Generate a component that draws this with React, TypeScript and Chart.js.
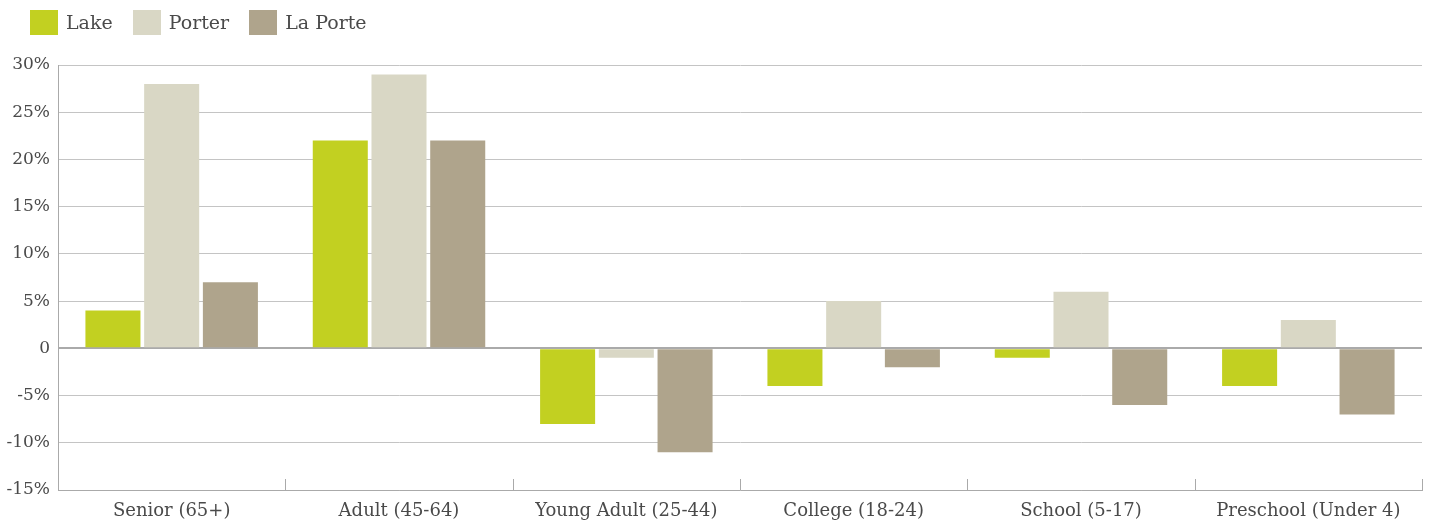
import React, { useEffect, useRef } from "react";
import { Chart, registerables } from "chart.js";

Chart.register(...registerables);

const categories = [
  "Senior (65+)",
  "Adult (45-64)",
  "Young Adult (25-44)",
  "College (18-24)",
  "School (5-17)",
  "Preschool (Under 4)",
];
const lakeValues = [4, 22, -8, -4, -1, -4];
const porterValues = [28, 29, -1, 5, 6, 3];
const laPorteValues = [7, 22, -11, -2, -6, -7];
const seriesNames = ["Lake", "Porter", "La Porte"];
const seriesColors = ["#c2d021", "#d9d7c5", "#afa48c"];

const FONT = "'DejaVu Serif', serif";
const TEXT = "#4a4a4a";

const boundaryTicks = {
  id: "boundaryTicks",
  afterDatasetsDraw(chart: any) {
    const x = chart.scales.x;
    const area = chart.chartArea;
    const ctx = chart.ctx;
    ctx.save();
    ctx.strokeStyle = "#aaaaaa";
    ctx.lineWidth = 1;
    const n = categories.length;
    for (let i = 0; i < n; i++) {
      let px;
      if (i < n - 1) px = (x.getPixelForTick(i) + x.getPixelForTick(i + 1)) / 2;
      else px = area.right;
      px = Math.round(px) + 0.5;
      ctx.beginPath();
      ctx.moveTo(px, area.bottom);
      ctx.lineTo(px, area.bottom - 11);
      ctx.stroke();
    }
    ctx.restore();
  },
};

export default function App() {
  const ref = useRef<HTMLCanvasElement | null>(null);
  useEffect(() => {
    document.body.style.margin = "0";
    const chart = new Chart(ref.current!, {
      type: "bar",
      data: {
        labels: categories,
        datasets: [lakeValues, porterValues, laPorteValues].map((d, i) => ({
          label: seriesNames[i],
          data: d,
          backgroundColor: seriesColors[i],
          borderWidth: 0,
          categoryPercentage: 0.775,
          barPercentage: 0.937,
        })),
      },
      options: {
        animation: false,
        responsive: false,
        maintainAspectRatio: false,
        layout: { padding: { top: 65, right: 11, left: 0, bottom: 0 } },
        plugins: {
          tooltip: { enabled: false },
          legend: { display: false },
        },
        scales: {
          x: {
            afterFit: (s: any) => {
              s.height = 33;
            },
            grid: { display: false },
            border: { display: true, color: "#aaaaaa", width: 1 },
            ticks: {
              color: TEXT,
              font: { family: FONT, size: 18 },
              padding: 3,
              maxRotation: 0,
            },
          },
          y: {
            min: -15,
            max: 30,
            afterFit: (s: any) => {
              s.width = 58;
            },
            ticks: {
              stepSize: 5,
              color: TEXT,
              font: { family: FONT, size: 17 },
              padding: 8,
              callback: (v: any) => (v === 0 ? "0" : v + "%"),
            },
            grid: {
              drawTicks: false,
              color: (c: any) => (c.tick && c.tick.value === 0 ? "#aaaaaa" : "#c4c4c4"),
              lineWidth: (c: any) => (c.tick && c.tick.value === 0 ? 2 : 1),
            },
            border: { display: true, color: "#aaaaaa", width: 1 },
          },
        },
      },
      plugins: [boundaryTicks],
    });
    return () => chart.destroy();
  }, []);
  return (
    <div style={{ position: "relative", width: 1433, height: 523 }}>
      <canvas ref={ref} width={1433} height={523} style={{ display: "block" }} />
      <div
        style={{
          position: "absolute",
          left: 30,
          top: 10,
          display: "flex",
          alignItems: "center",
          fontFamily: FONT,
          fontSize: 19,
          color: TEXT,
          height: 25,
        }}
      >
        {seriesNames.map((name, i) => (
          <div key={name} style={{ display: "flex", alignItems: "center", marginRight: 20 }}>
            <span
              style={{
                display: "inline-block",
                width: 28,
                height: 25,
                background: seriesColors[i],
                marginRight: 8,
              }}
            />
            <span style={{ lineHeight: "25px" }}>{name}</span>
          </div>
        ))}
      </div>
    </div>
  );
}
